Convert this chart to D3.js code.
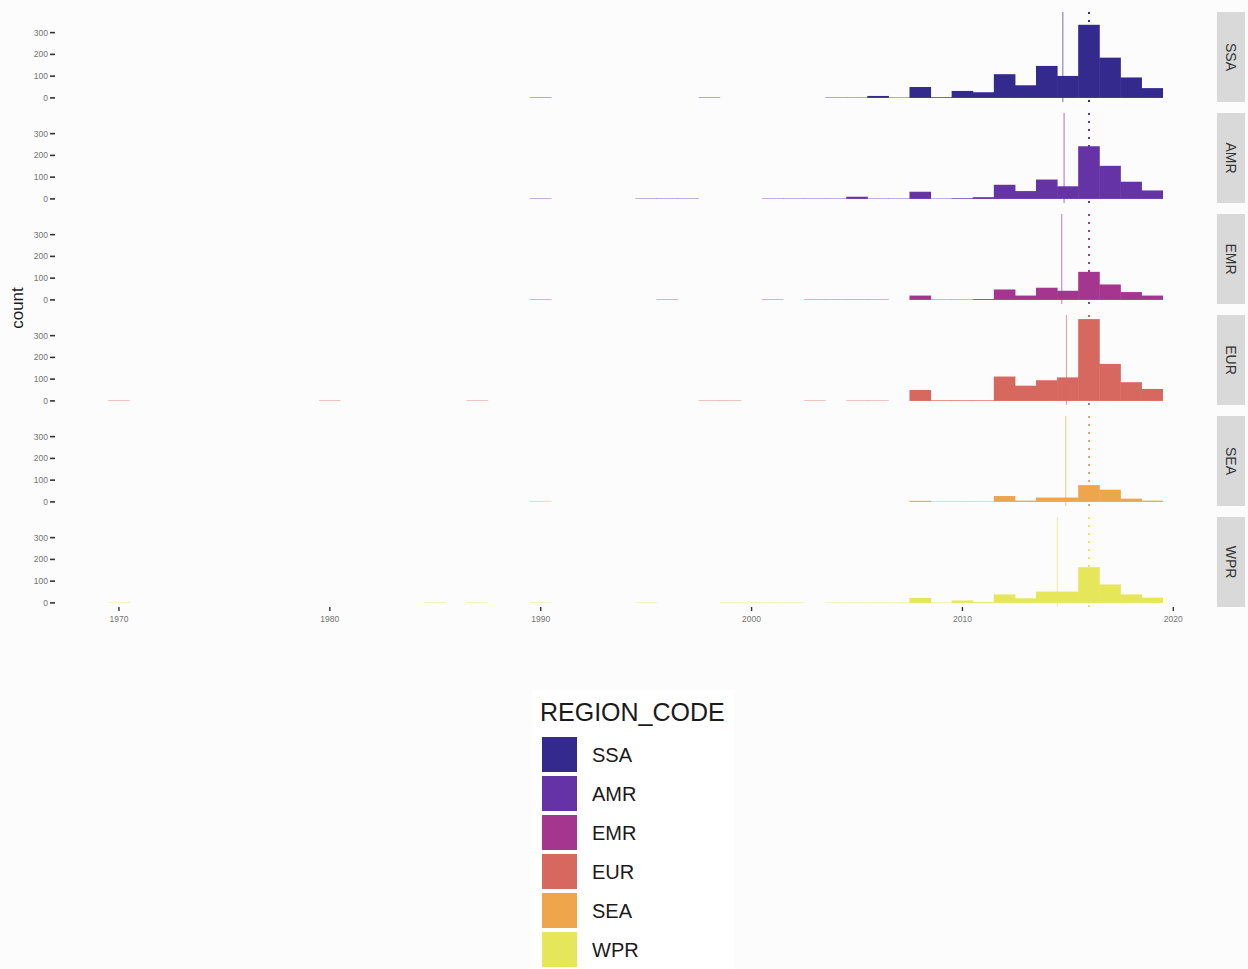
<!DOCTYPE html>
<html><head><meta charset="utf-8">
<script src="https://cdn.jsdelivr.net/npm/d3@7"></script>
<style>
html,body{margin:0;padding:0;background:#fcfcfc;}
svg{display:block;font-family:"Liberation Sans",Arial,Helvetica,sans-serif;}
</style></head><body>
<svg id="chart" width="1248" height="969"></svg>
<script>
// Facet rows (top to bottom) and their fill colours
const regions = ["SSA", "AMR", "EMR", "EUR", "SEA", "WPR"];
const regionColors = ["#34298c", "#6633a6", "#a4368f", "#d7685f", "#efa54b", "#e6e65a"];

// One-year histogram bins, centred on each year from 1970 to 2019
const firstYear = 1970, lastYear = 2019;
const binYears = d3.range(firstYear, lastYear + 1);

// Counts per bin (1970 … 2019), one array per region
const countsSSA = [0,0,0,0,0,0,0,0,0,0, 0,0,0,0,0,0,0,0,0,0, 1,0,0,0,0,0,0,0,1,0,
                   0,0,0,0,1,1,9,1,50,3, 32,26,109,58,147,101,336,185,94,45];
const countsAMR = [0,0,0,0,0,0,0,0,0,0, 0,0,0,0,0,0,0,0,0,0, 1,0,0,0,0,1,2,1,0,0,
                   0,1,1,1,1,10,1,1,33,1, 3,8,65,36,89,58,242,152,79,39];
const countsEMR = [0,0,0,0,0,0,0,0,0,0, 0,0,0,0,0,0,0,0,0,0, 2,0,0,0,0,0,1,0,0,0,
                   0,1,0,1,1,2,2,0,20,1, 1,4,48,20,56,42,129,71,36,20];
const countsEUR = [1,0,0,0,0,0,0,0,0,0, 1,0,0,0,0,0,0,1,0,0, 0,0,0,0,0,0,0,0,1,1,
                   0,0,0,1,0,2,2,0,50,3, 3,3,112,70,95,108,376,170,86,55];
const countsSEA = [0,0,0,0,0,0,0,0,0,0, 0,0,0,0,0,0,0,0,0,0, 1,0,0,0,0,0,0,0,0,0,
                   0,0,0,0,0,0,0,0,5,1, 2,2,27,6,20,20,77,56,15,6];
const countsWPR = [1,0,0,0,0,0,0,0,0,0, 0,0,0,0,0,1,0,1,0,0, 1,0,0,0,0,1,0,0,0,2,
                   1,1,1,0,1,1,1,1,23,1, 11,4,39,21,52,52,164,85,39,24];
const regionCounts = [countsSSA, countsAMR, countsEMR, countsEUR, countsSEA, countsWPR];

// Reference lines: solid = regional mean year, dotted = median year
const meanYears = [2014.76, 2014.82, 2014.71, 2014.93, 2014.90, 2014.50];
const medianYears = [2016, 2016, 2016, 2016, 2016, 2016];

// Axis ticks
const yTicks = [0, 100, 200, 300];
const xTicks = [1970, 1980, 1990, 2000, 2010, 2020];

const svg = d3.select("#chart");

// Layout
const panelLeft = 55.7, panelRight = 1215.5;
const panelTop0 = 12, panelH = 90, panelStep = 101;
const stripX = 1217, stripW = 28;

// Shared x scale: bin edges with 5% expansion on both sides
const xLo = firstYear - 0.5, xHi = lastYear + 0.5;
const xPad = (xHi - xLo) * 0.05;
const x = d3.scaleLinear().domain([xLo - xPad, xHi + xPad]).range([panelLeft, panelRight]);

// Shared y domain across facets, 5% expansion
const yMax = d3.max(regionCounts, c => d3.max(c));
const yDomain = [-0.05 * yMax, yMax * 1.05];

regions.forEach((reg, i) => {
  const top = panelTop0 + i * panelStep;
  const bottom = top + panelH;
  const y = d3.scaleLinear().domain(yDomain).range([bottom, top]);
  const col = regionColors[i];
  const g = svg.append("g").attr("class", "panel-" + reg);

  const bins = binYears.map((yr, k) => ({year: yr, n: regionCounts[i][k]})).filter(d => d.n > 0);

  // bars overlap by a fraction of a pixel so adjacent bins read as one shape
  g.selectAll("rect.bar").data(bins).join("rect")
    .attr("class", "bar")
    .attr("x", d => x(d.year - 0.5) - 0.25)
    .attr("width", d => x(d.year + 0.5) - x(d.year - 0.5) + 0.5)
    .attr("y", d => Math.min(y(d.n), y(0) - 0.7))
    .attr("height", d => Math.max(y(0) - y(d.n), 0.7))
    .attr("fill", col)
    .attr("fill-opacity", d => d.n < 3 ? 0.55 : 1);

  // mean line
  g.append("line")
    .attr("x1", x(meanYears[i])).attr("x2", x(meanYears[i]))
    .attr("y1", top).attr("y2", bottom)
    .attr("stroke", col).attr("stroke-opacity", 0.65).attr("stroke-width", 1);

  // median line (dotted)
  g.append("line")
    .attr("x1", x(medianYears[i])).attr("x2", x(medianYears[i]))
    .attr("y1", top).attr("y2", bottom)
    .attr("stroke", col).attr("stroke-width", 2)
    .attr("stroke-dasharray", "2 6");

  // y axis
  const yAxis = svg.append("g").attr("class", "y-axis");
  yTicks.forEach(t => {
    yAxis.append("line")
      .attr("x1", 50).attr("x2", 55)
      .attr("y1", y(t)).attr("y2", y(t))
      .attr("stroke", "#333").attr("stroke-width", 1.6);
    yAxis.append("text")
      .attr("x", 48).attr("y", y(t)).attr("dy", "0.35em")
      .attr("text-anchor", "end")
      .attr("font-size", 8.5).attr("fill", "#737373")
      .text(t);
  });

  // facet strip
  svg.append("rect")
    .attr("x", stripX).attr("y", top).attr("width", stripW).attr("height", panelH)
    .attr("fill", "#d9d9d9");
  svg.append("text")
    .attr("transform", `translate(${stripX + stripW / 2},${top + panelH / 2}) rotate(90)`)
    .attr("text-anchor", "middle").attr("dy", "0.35em")
    .attr("font-size", 14).attr("fill", "#333")
    .text(reg);
});

// x axis under the last panel
const xAxisY = panelTop0 + (regions.length - 1) * panelStep + panelH;
const xAxis = svg.append("g").attr("class", "x-axis");
xTicks.forEach(t => {
  xAxis.append("line")
    .attr("x1", x(t)).attr("x2", x(t))
    .attr("y1", xAxisY).attr("y2", xAxisY + 4)
    .attr("stroke", "#333").attr("stroke-width", 1.4);
  xAxis.append("text")
    .attr("x", x(t)).attr("y", xAxisY + 15)
    .attr("text-anchor", "middle")
    .attr("font-size", 8.5).attr("fill", "#737373")
    .text(t);
});

// y axis title
svg.append("text")
  .attr("transform", "translate(23,308) rotate(-90)")
  .attr("text-anchor", "middle")
  .attr("font-size", 17).attr("fill", "#1a1a1a")
  .text("count");

// Legend
const legend = svg.append("g").attr("class", "legend");
legend.append("rect")
  .attr("x", 532).attr("y", 690).attr("width", 202).attr("height", 279)
  .attr("fill", "#ffffff");
legend.append("text")
  .attr("x", 540).attr("y", 721)
  .attr("font-size", 25).attr("fill", "#1a1a1a")
  .text("REGION_CODE");
regions.forEach((reg, i) => {
  const ky = 737 + i * 39;
  legend.append("rect")
    .attr("x", 542).attr("y", ky).attr("width", 35).attr("height", 35)
    .attr("fill", regionColors[i]);
  legend.append("text")
    .attr("x", 592).attr("y", ky + 17.5).attr("dy", "0.36em")
    .attr("font-size", 20).attr("fill", "#1a1a1a")
    .text(reg);
});
</script>
</body></html>
